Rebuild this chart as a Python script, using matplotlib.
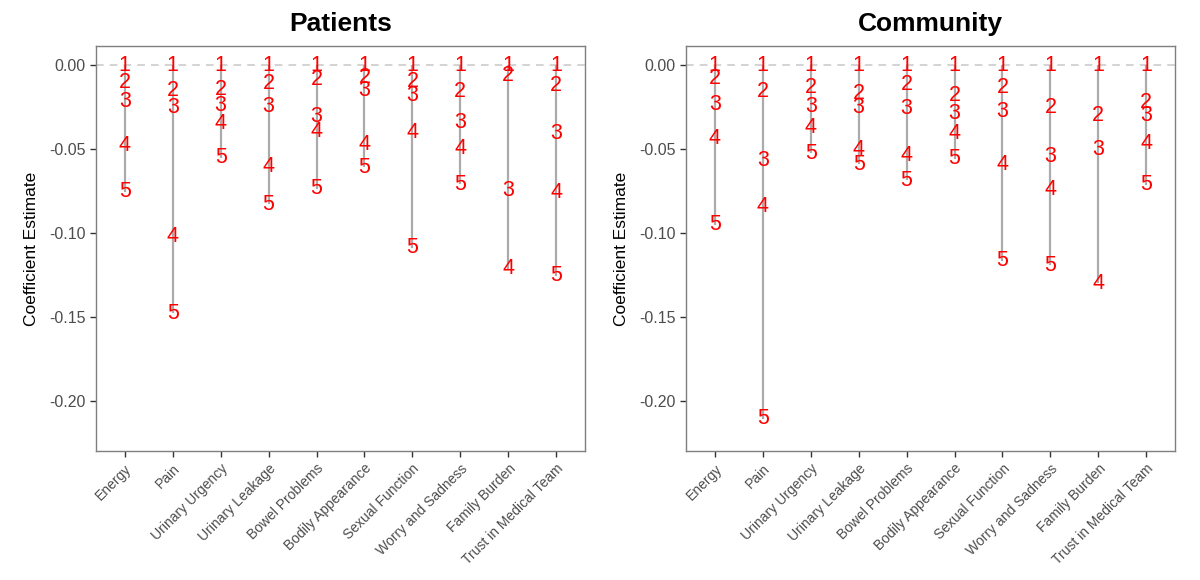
import matplotlib
matplotlib.use("Agg")
import matplotlib.pyplot as plt

plt.rcParams['font.family'] = ['Liberation Sans', 'DejaVu Sans']
plt.rcParams['axes.unicode_minus'] = False

categories = ["Energy", "Pain", "Urinary Urgency", "Urinary Leakage",
              "Bowel Problems", "Bodily Appearance", "Sexual Function",
              "Worry and Sadness", "Family Burden", "Trust in Medical Team"]
levels = ["1", "2", "3", "4", "5"]

# coefficient estimates per category, levels 1..5 (None = not shown)
patients = [
    [0.000, -0.0103, -0.0218, -0.0480, -0.0755],
    [0.000, -0.0149, -0.0254, -0.1018, -0.1478],
    [0.000, -0.0145, -0.0238, -0.0349, -0.0552],
    [0.000, -0.0109, -0.0248, -0.0605, -0.0828],
    [0.000, -0.0083, -0.0308, -0.0397, -0.0736],
    [0.000, -0.0073, -0.0149, -0.0470, -0.0609],
    [0.000, -0.0099, -0.0179, -0.0400, -0.1088],
    [0.000, -0.0155, -0.0341, -0.0496, -0.0708],
    [0.000, -0.0063, -0.0746, -0.1214, None],
    [0.000, -0.0119, -0.0407, -0.0757, -0.1254],
]
community = [
    [0.000, -0.0079, -0.0234, -0.0437, -0.0952],
    [0.000, -0.0159, -0.0565, -0.0841, -0.2105],
    [0.000, -0.0135, -0.0244, -0.0371, -0.0526],
    [0.000, -0.0169, -0.0254, -0.0500, -0.0589],
    [0.000, -0.0113, -0.0258, -0.0536, -0.0685],
    [0.000, -0.0183, -0.0288, -0.0407, -0.0556],
    [0.000, -0.0133, -0.0278, -0.0591, -0.1166],
    [0.000, -0.0252, -0.0546, -0.0738, -0.1192],
    [0.000, -0.0302, -0.0500, -0.1299, None],
    [0.000, -0.0222, -0.0298, -0.0466, -0.0712],
]
yticks = [0.00, -0.05, -0.10, -0.15, -0.20]

fig = plt.figure(figsize=(12, 5.8), dpi=100)
ax1 = fig.add_axes([0.080, 0.2224, 0.4075, 0.698])
ax2 = fig.add_axes([0.5717, 0.2224, 0.4075, 0.698])

for ax, data, title in [(ax1, patients, "Patients"), (ax2, community, "Community")]:
    ax.axhline(0, color="#C8C8C8", linestyle=(0, (5, 4)), linewidth=1.1, zorder=1)
    for i, vals in enumerate(data):
        x = i + 1
        shown = [v for v in vals if v is not None]
        ax.vlines(x, min(shown), max(shown), color="#ABABAB", linewidth=1.6, zorder=2)
        for lab, v in zip(levels, vals):
            if v is None:
                continue
            ax.text(x, v, lab, color="#FF0000", fontsize=15.5,
                    ha="center", va="center", zorder=3)
    ax.set_xlim(0.4, 10.6)
    ax.set_ylim(-0.2298, 0.0113)
    ax.set_xticks(range(1, len(categories) + 1))
    ax.set_xticklabels(categories, rotation=45, ha="right", va="top",
                       rotation_mode="anchor", color="#4D4D4D", fontsize=10)
    ax.set_yticks(yticks)
    ax.set_yticklabels(["%.2f" % t for t in yticks], color="#4D4D4D", fontsize=11.5)
    ax.tick_params(direction="out", length=4, width=1, color="#333333")
    for s in ax.spines.values():
        s.set_color("#7F7F7F")
        s.set_linewidth(1.0)
    ax.set_ylabel("Coefficient Estimate", fontsize=12.5, color="black", labelpad=7)
    ax.set_title(title, fontsize=19, fontweight="bold", pad=11)

fig.savefig("out.png", dpi=100)
